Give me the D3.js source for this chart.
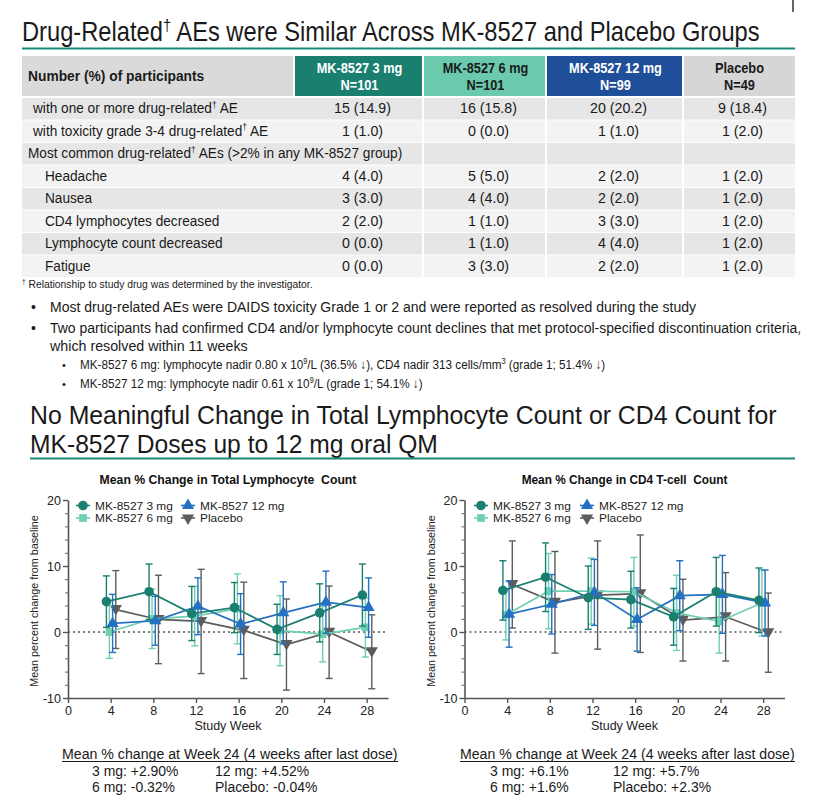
<!DOCTYPE html>
<html><head><meta charset="utf-8">
<script src="https://cdn.jsdelivr.net/npm/d3@7"></script>
<style>body{margin:0;background:#fff}svg{display:block}</style>
</head><body><svg id="c" width="823" height="812"></svg>
<script>
// ---------------- DATA ----------------
const groups = ["MK-8527 3 mg","MK-8527 6 mg","MK-8527 12 mg","Placebo"];
const groupN = ["N=101","N=101","N=99","N=49"];
const rowLabels = [
  "with one or more drug-related† AE",
  "with toxicity grade 3-4 drug-related† AE",
  "Most common drug-related† AEs (>2% in any MK-8527 group)",
  "Headache","Nausea","CD4 lymphocytes decreased","Lymphocyte count decreased","Fatigue"];
const vals3mg  = ["15 (14.9)","1 (1.0)","","4 (4.0)","3 (3.0)","2 (2.0)","0 (0.0)","0 (0.0)"];
const vals6mg  = ["16 (15.8)","0 (0.0)","","5 (5.0)","4 (4.0)","1 (1.0)","1 (1.0)","3 (3.0)"];
const vals12mg = ["20 (20.2)","1 (1.0)","","2 (2.0)","2 (2.0)","3 (3.0)","4 (4.0)","2 (2.0)"];
const valsPlacebo = ["9 (18.4)","1 (2.0)","","1 (2.0)","1 (2.0)","1 (2.0)","1 (2.0)","1 (2.0)"];

const weeks = [4,8,12,16,20,24,28];
const xTicks = [0,4,8,12,16,20,24,28];
const yTicks = [-10,0,10,20];

// Total lymphocyte count: mean % change and error half-width
const lymph3mg  = [4.6, 6.1, 2.8, 3.7, 0.4, 2.9, 5.6];
const lymph3mgErr = [3.9, 4.2, 4.1, 3.8, 3.8, 4.4, 4.7];
const lymph6mg  = [0.0, 2.0, 2.4, 3.5, 0.2, -0.32, 0.7];
const lymph6mgErr = [4.0, 4.5, 4.5, 5.3, 5.3, 4.2, 4.5];
const lymph12mg = [1.3, 1.7, 3.9, 1.2, 2.9, 4.52, 3.7];
const lymph12mgErr = [4.4, 3.7, 4.3, 4.6, 4.7, 4.7, 4.5];
const lymphPlacebo = [3.4, 1.9, 1.6, 0.25, -1.9, -0.04, -3.0];
const lymphPlaceboErr = [5.9, 6.7, 7.9, 7.3, 6.9, 7.0, 5.6];

// CD4 T-cell count
const cd43mg  = [6.3, 8.3, 5.2, 4.9, 2.3, 6.1, 4.8];
const cd43mgErr = [4.5, 5.2, 4.8, 4.3, 4.3, 5.2, 4.9];
const cd46mg  = [2.6, 6.2, 6.2, 6.1, 2.9, 1.6, 4.4];
const cd46mgErr = [3.8, 5.7, 5.0, 5.2, 5.7, 4.8, 5.0];
const cd412mg = [2.7, 4.2, 6.0, 1.9, 5.5, 5.7, 4.4];
const cd412mgErr = [5.0, 4.5, 5.0, 4.8, 5.3, 5.9, 5.0];
const cd4Placebo = [7.2, 4.5, 5.6, 5.8, 1.8, 2.3, -0.1];
const cd4PlaceboErr = [6.6, 7.7, 8.2, 8.9, 6.2, 6.7, 6.0];

const lymphSummary = [["3 mg: +2.90%","12 mg: +4.52%"],["6 mg: -0.32%","Placebo: -0.04%"]];
const cd4Summary   = [["3 mg: +6.1%","12 mg: +5.7%"],["6 mg: +1.6%","Placebo: +2.3%"]];

// ---------------- STYLE ----------------
const NARROW = "'Liberation Sans Narrow','Arial Narrow','Liberation Sans',Arial,sans-serif";
const SANS = "'Liberation Sans',Arial,sans-serif";
const TEAL_LINE = "#1a8a78";
const seriesColor = ["#1a7f70","#6fcfb2","#2470c2","#5c5c5c"];
const headerFill = ["#1b7f6f","#6bc9ae","#1f4f98","#d6d6d6"];
const headerText = ["#fff","#1a1a1a","#fff","#1a1a1a"];

const svg = d3.select("#c");

// Text helper: horizontal compression is done by a transform so boxes stay true.
function txt(x,y,str,o={}){
  const size=o.size||15;
  const g = svg.append("g");
  const t = g.append("text").attr("x",0).attr("y",0)
    .attr("font-family", o.family||NARROW).attr("font-size", size)
    .attr("font-weight", o.weight||"normal").attr("fill", o.fill||"#1a1a1a")
    .attr("text-anchor", o.anchor||"start");
  if(o.pre) t.style("white-space","pre");
  if(o.build){ o.build(t); }
  else if(str.includes("†")){
    str.split("†").forEach((p,i)=>{
      if(i>0){
        t.append("tspan").attr("font-size", size*0.62).attr("dy", -size*0.38).text("†");
        t.append("tspan").attr("dy", size*0.38).text(p);
      } else t.append("tspan").text(p);
    });
  } else t.text(str);
  const w=t.node().getComputedTextLength();
  const f = o.len ? o.len/w : (o.f||1);
  g.attr("transform",`translate(${x},${y})${o.rot?` rotate(${o.rot})`:""} scale(${f},1)`);
  return t;
}

svg.append("line").attr("x1",793).attr("x2",793).attr("y1",0).attr("y2",12).attr("stroke","#000").attr("stroke-width",1.2);

// ---------------- TITLE 1 ----------------
txt(22,41,"Drug-Related† AEs were Similar Across MK-8527 and Placebo Groups",{size:27,len:738});
svg.append("line").attr("x1",22).attr("x2",795).attr("y1",48.5).attr("y2",48.5).attr("stroke",TEAL_LINE).attr("stroke-width",2);

// ---------------- TABLE ----------------
const colEdges = [22,295,424,547,684,795];
const rowY = d3.scaleBand().domain(d3.range(rowLabels.length)).range([97,277]).paddingInner(0);
const headerTop = 56, headerBot = 96;
svg.append("rect").attr("x",colEdges[0]).attr("y",headerTop).attr("width",colEdges[1]-colEdges[0]-2).attr("height",headerBot-headerTop).attr("fill","#dadada");
groups.forEach((g,i)=>{
  svg.append("rect").attr("x",colEdges[i+1]).attr("y",headerTop).attr("width",colEdges[i+2]-colEdges[i+1]-(i<3?2:0)).attr("height",headerBot-headerTop).attr("fill",headerFill[i]);
  const cx=(colEdges[i+1]+colEdges[i+2])/2;
  txt(cx,73,g,{size:14.5,weight:"bold",anchor:"middle",fill:headerText[i],f:0.88});
  txt(cx,90,groupN[i],{size:14.5,weight:"bold",anchor:"middle",fill:headerText[i],f:0.88});
});
txt(28,81,"Number (%) of participants",{size:15,weight:"bold",f:0.92});

const allVals=[vals3mg,vals6mg,vals12mg,valsPlacebo];
rowLabels.forEach((lab,r)=>{
  const y0=rowY(r)+1, h=rowY.bandwidth()-1;
  const fill = r%2===0 ? "#e6e6e6" : "#f3f3f3";
  svg.append("rect").attr("x",colEdges[0]).attr("y",y0).attr("width",colEdges[2]-colEdges[0]-2).attr("height",h).attr("fill",fill);
  for(let c=2;c<5;c++){
    svg.append("rect").attr("x",colEdges[c]).attr("y",y0).attr("width",colEdges[c+1]-colEdges[c]-(c<4?2:0)).attr("height",h).attr("fill",fill);
  }
  const cy=rowY(r)+rowY.bandwidth()/2+5;
  const lx = r<2 ? 33 : (r===2 ? 28 : 45);
  txt(lx,cy,lab,{size:15,f:0.91});
  allVals.forEach((vals,c)=>{
    if(vals[r]) txt((colEdges[c+1]+colEdges[c+2])/2+3,cy,vals[r],{size:15,anchor:"middle",f:0.95});
  });
});
txt(22,288,"† Relationship to study drug was determined by the investigator.",{size:10.5,len:291});

// ---------------- BULLETS ----------------
function bullet(x,y,size){svg.append("text").attr("x",x).attr("y",y).attr("font-family",SANS).attr("font-size",size).attr("fill","#1a1a1a").text("•");}
bullet(31,312,14); txt(50,312,"Most drug-related AEs were DAIDS toxicity Grade 1 or 2 and were reported as resolved during the study",{size:15.5,len:647});
bullet(31,333,14); txt(50,333,"Two participants had confirmed CD4 and/or lymphocyte count declines that met protocol-specified discontinuation criteria,",{size:15.5,len:752});
txt(50,351,"which resolved within 11 weeks",{size:15.5,len:198});
bullet(62,369,11);
txt(80,369,"",{size:13.5,len:526,build:t=>{
  t.append("tspan").text("MK-8527 6 mg: lymphocyte nadir 0.80 x 10");
  t.append("tspan").attr("font-size",8.5).attr("dy",-5).text("9");
  t.append("tspan").attr("dy",5).text("/L (36.5% ↓), CD4 nadir 313 cells/mm");
  t.append("tspan").attr("font-size",8.5).attr("dy",-5).text("3");
  t.append("tspan").attr("dy",5).text(" (grade 1; 51.4% ↓)");
}});
bullet(62,388,11);
txt(80,388,"",{size:13.5,len:343,build:t=>{
  t.append("tspan").text("MK-8527 12 mg: lymphocyte nadir 0.61 x 10");
  t.append("tspan").attr("font-size",8.5).attr("dy",-5).text("9");
  t.append("tspan").attr("dy",5).text("/L (grade 1; 54.1% ↓)");
}});

// ---------------- TITLE 2 ----------------
txt(30,424,"No Meaningful Change in Total Lymphocyte Count or CD4 Count for",{size:25.5,len:747});
txt(30,453,"MK-8527 Doses up to 12 mg oral QM",{size:25.5,len:408});
svg.append("line").attr("x1",30).attr("x2",795).attr("y1",458.5).attr("y2",458.5).attr("stroke",TEAL_LINE).attr("stroke-width",2);

// ---------------- CHARTS ----------------
const symbols = [d3.symbolCircle,d3.symbolSquare,d3.symbolTriangle,d3.symbolTriangle];
const symSize = [72,60,64,64];
const symRot = [0,0,0,180];
const dodge = [-0.4,-0.12,0.18,0.48];

function drawChart(cfg){
  const x = d3.scaleLinear().domain([0,30]).range([cfg.left, cfg.left+cfg.width]);
  const y = d3.scaleLinear().domain([-10,20]).range([698,500]);
  const g = svg.append("g");
  txt(cfg.left+160,484,cfg.title,{family:SANS,weight:"bold",size:12.5,fill:"#111",anchor:"middle",pre:true,len:cfg.titleLen});
  g.append("g").attr("transform",`translate(${cfg.left},0)`)
    .call(d3.axisLeft(y).tickValues(d3.range(-10,21,2)).tickSize(3).tickFormat(""))
    .call(a=>{a.select(".domain").remove();a.selectAll("line").attr("stroke","#666").attr("stroke-width",1);});
  const ya = g.append("g").attr("transform",`translate(${cfg.left},0)`)
    .call(d3.axisLeft(y).tickValues(yTicks).tickSize(5).tickSizeOuter(0).tickPadding(2).tickFormat(d=>String(d)));
  const xa = g.append("g").attr("transform",`translate(0,698)`)
    .call(d3.axisBottom(x).tickValues(xTicks).tickSize(5).tickSizeOuter(0).tickPadding(3).tickFormat(d=>String(d)));
  [ya,xa].forEach(a=>{
    a.select(".domain").attr("stroke","#555").attr("stroke-width",1.6);
    a.selectAll(".tick line").attr("stroke","#555").attr("stroke-width",1.4);
    a.selectAll("text").attr("font-family",SANS).attr("font-size",12.5).attr("fill","#222");
  });
  txt(cfg.left-30,601,"Mean percent change from baseline",{family:SANS,size:11.5,fill:"#222",anchor:"middle",rot:-90,len:172});
  g.append("text").attr("x",cfg.left+160).attr("y",730).attr("text-anchor","middle")
    .attr("font-family",SANS).attr("font-size",12.5).attr("fill","#222").text("Study Week");
  g.append("line").attr("x1",x(0)).attr("x2",x(30)).attr("y1",y(0)).attr("y2",y(0))
    .attr("stroke","#555").attr("stroke-width",1.3).attr("stroke-dasharray","2,3");
  const order=[3,1,2,0];
  order.forEach(s=>{
    const m=cfg.means[s], e=cfg.errs[s], col=seriesColor[s];
    const pts = weeks.map((w,i)=>({x:x(w+dodge[s]),y:y(m[i]),lo:y(m[i]-e[i]),hi:y(m[i]+e[i])}));
    const sg=g.append("g");
    pts.forEach(p=>{
      sg.append("line").attr("x1",p.x).attr("x2",p.x).attr("y1",p.lo).attr("y2",p.hi).attr("stroke",col).attr("stroke-width",1.4);
      [p.lo,p.hi].forEach(v=>sg.append("line").attr("x1",p.x-3.5).attr("x2",p.x+3.5).attr("y1",v).attr("y2",v).attr("stroke",col).attr("stroke-width",1.4));
    });
    sg.append("path").attr("d",d3.line().x(d=>d.x).y(d=>d.y)(pts)).attr("fill","none").attr("stroke",col).attr("stroke-width",1.7);
    pts.forEach(p=>{
      sg.append("path").attr("d",d3.symbol().type(symbols[s]).size(symSize[s])())
        .attr("transform",`translate(${p.x},${p.y + (s===3?-1:0)}) rotate(${symRot[s]})`).attr("fill",col);
    });
  });
  const legPos=[[cfg.l1,505.5],[cfg.l1,518],[cfg.l2,505.5],[cfg.l2,518]];
  groups.forEach((gname,s)=>{
    const [lx,ly]=legPos[s];
    g.append("line").attr("x1",lx-7).attr("x2",lx+7).attr("y1",ly).attr("y2",ly).attr("stroke",seriesColor[s]).attr("stroke-width",1.6);
    g.append("path").attr("d",d3.symbol().type(symbols[s]).size(symSize[s])())
      .attr("transform",`translate(${lx},${ly}) rotate(${symRot[s]})`).attr("fill",seriesColor[s]);
    txt(lx+12,ly+4,gname,{family:SANS,size:11,fill:"#222",f:1.08});
  });
  const sx=cfg.sumX;
  txt(sx,759,"Mean % change at Week 24 (4 weeks after last dose)",{size:15.5,len:cfg.sumLen});
  svg.append("line").attr("x1",sx).attr("x2",sx+cfg.sumLen).attr("y1",761.5).attr("y2",761.5).attr("stroke","#1a1a1a").attr("stroke-width",1);
  cfg.summary.forEach((row,r)=>{
    row.forEach((t,c)=>{
      txt(sx+(c===0?30:153),776+r*16,t,{size:15.5,f:0.9});
    });
  });
}

drawChart({left:68,width:320,title:"Mean % Change in Total Lymphocyte  Count",titleLen:257,
  means:[lymph3mg,lymph6mg,lymph12mg,lymphPlacebo],errs:[lymph3mgErr,lymph6mgErr,lymph12mgErr,lymphPlaceboErr],
  l1:83,l2:188,sumX:62,sumLen:336,summary:lymphSummary});
drawChart({left:464.5,width:320,title:"Mean % Change in CD4 T-cell  Count",titleLen:206,
  means:[cd43mg,cd46mg,cd412mg,cd4Placebo],errs:[cd43mgErr,cd46mgErr,cd412mgErr,cd4PlaceboErr],
  l1:481,l2:587,sumX:460,sumLen:335,summary:cd4Summary});
</script></body></html>
